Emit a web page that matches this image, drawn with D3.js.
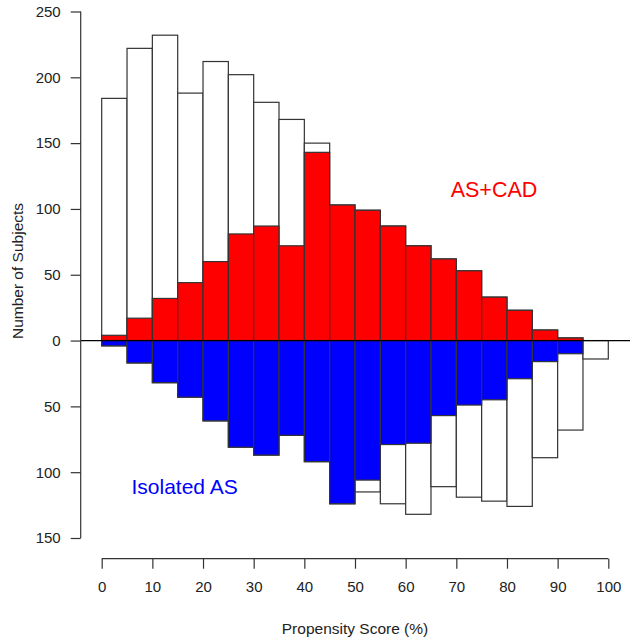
<!DOCTYPE html>
<html><head><meta charset="utf-8">
<script src="https://cdn.jsdelivr.net/npm/d3@7"></script>
<style>html,body{margin:0;padding:0;background:#fff;}svg{display:block;font-family:"Liberation Sans",Arial,sans-serif;}</style>
</head><body>
<svg id="c" width="635" height="642"></svg>
<script>
const binStarts = [0,5,10,15,20,25,30,35,40,45,50,55,60,65,70,75,80,85,90,95];
const binWidth = 5;
const casTotal   = [184,222,232,188,212,202,181,168,150,103,99,87,72,62,53,33,23,8,2,0];
const casMatched = [4,17,32,44,60,81,87,72,143,103,99,87,72,62,53,33,23,8,2,0];
const isoTotal   = [4,17,32,43,61,81,87,72,92,124,115,124,132,111,119,122,126,89,68,14];
const isoMatched = [4,17,32,43,61,81,87,72,92,124,106,79,78,57,49,45,29,16,10,0];
const xTicks = [0,10,20,30,40,50,60,70,80,90,100];
const yTicks = [-150,-100,-50,0,50,100,150,200,250];

const svg = d3.select("#c");
const x = d3.scaleLinear().domain([0,100]).range([101.7,608.3]);
const y = d3.scaleLinear().domain([-150,250]).range([538,11.5]);
const stroke = "#333", sw = 1.2;

function bars(vals, sign, fill){
  svg.append("g").selectAll("rect").data(binStarts).join("rect")
    .attr("x", d=>x(d))
    .attr("width", d=>x(d+binWidth)-x(d))
    .attr("y", (d,i)=> sign>0 ? y(vals[i]) : y(0))
    .attr("height", (d,i)=> Math.abs(y(0)-y(sign*vals[i])))
    .attr("fill", fill).attr("stroke", stroke).attr("stroke-width", sw)
    .attr("display", (d,i)=> vals[i]>0 ? null : "none");
}
bars(casTotal, 1, "#fff");
bars(isoTotal, -1, "#fff");
bars(casMatched, 1, "#ff0000");
bars(isoMatched, -1, "#0000ff");

// zero line
svg.append("line").attr("x1",80.7).attr("x2",630).attr("y1",y(0)).attr("y2",y(0))
  .attr("stroke","#000").attr("stroke-width",1.2);

// y axis
const ya = svg.append("g").attr("transform","translate(80.7,0)")
  .call(d3.axisLeft(y).tickValues(yTicks).tickSize(10).tickPadding(10).tickFormat(d=>Math.abs(d)));
ya.select(".domain").attr("d", `M0,${y(250)}V${y(-150)}`);
// x axis
const xa = svg.append("g").attr("transform","translate(0,558.7)")
  .call(d3.axisBottom(x).tickValues(xTicks).tickSize(10).tickPadding(13).tickFormat(d=>d));
xa.select(".domain").attr("d", `M${x(0)},0H${x(100)}`);
[ya,xa].forEach(a=>{
  a.selectAll(".domain,line").attr("stroke","#333").attr("stroke-width",1.2);
  a.selectAll("text").attr("font-size",15).attr("fill","#222").attr("font-family",'"Liberation Sans",Arial,sans-serif');
});

svg.append("text").attr("x",355).attr("y",634).attr("text-anchor","middle")
  .attr("font-size",15.5).attr("fill","#222").text("Propensity Score (%)");
svg.append("text").attr("transform","translate(22.5,271) rotate(-90)").attr("text-anchor","middle")
  .attr("font-size",15.5).attr("fill","#222").text("Number of Subjects");

svg.append("text").attr("x",494).attr("y",197).attr("text-anchor","middle")
  .attr("font-size",21.5).attr("fill","#ff0000").text("AS+CAD");
svg.append("text").attr("x",131.5).attr("y",493.5).attr("text-anchor","start")
  .attr("font-size",21).attr("fill","#0000ff").text("Isolated AS");
</script>
</body></html>
